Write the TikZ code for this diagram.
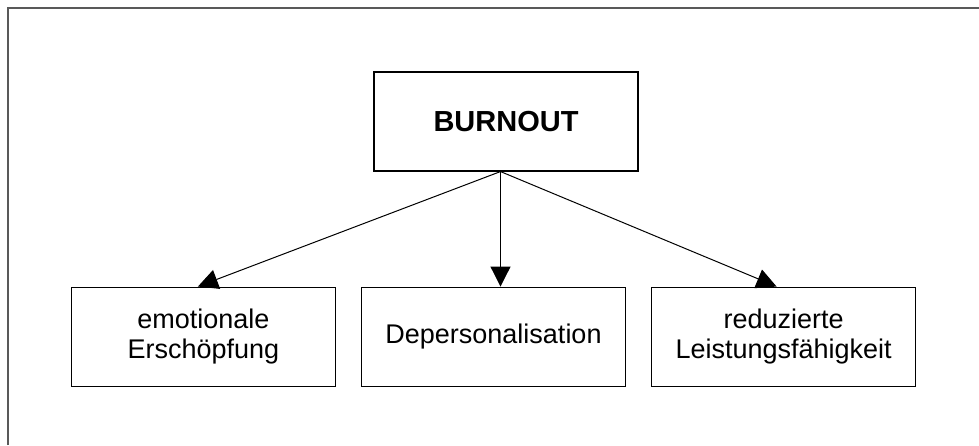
\documentclass[tikz,border=0pt]{standalone}
\usepackage{fontspec}
\setmainfont{Liberation Sans}
\usetikzlibrary{positioning,arrows.meta}
\tikzset{
    frame/.style = {
        draw = gray!70!black,
        line width = 2pt,
        },
    box/.style = {
        draw,
        line width = 1.1pt,
        minimum width = 264pt,
        minimum height = 99pt,
        align = center,
        font = \fontsize{27}{30}\selectfont,
        },
    title/.style = {
        font = \fontsize{29}{30}\selectfont\bfseries,
        },
    arrow/.style = {
        line width = 1pt,
        -{Triangle[length=20pt, width=20pt]},
        },
}
\begin{document}
\begin{tikzpicture}[x=1pt, y=1pt]
            \useasboundingbox (0,0) rectangle (979,-445);
            \draw[frame] (8,-445) -- (8,-8) -- (979,-8);

            \node[box, title] (burnout) at (506,-121.5) {BURNOUT};
            \node[box, below=115pt of burnout, xshift=-12.5pt] (2) {Depersonalisation};
            \node[box, left=25pt of 2] (1) {emotionale\\Ersch\"opfung};
            \node[box, right=25pt of 2] (3) {reduzierte\\Leistungsf\"ahigkeit};

            \coordinate (apex) at ([xshift=-5.5pt]burnout.south);
            \path (apex) edge[arrow] ([xshift=-5.5pt]1.north);
            \path (apex) edge[arrow] (apex |- 2.north);
            \path (apex) edge[arrow] ([xshift=-7pt]3.north);
        \end{tikzpicture}
\end{document}
